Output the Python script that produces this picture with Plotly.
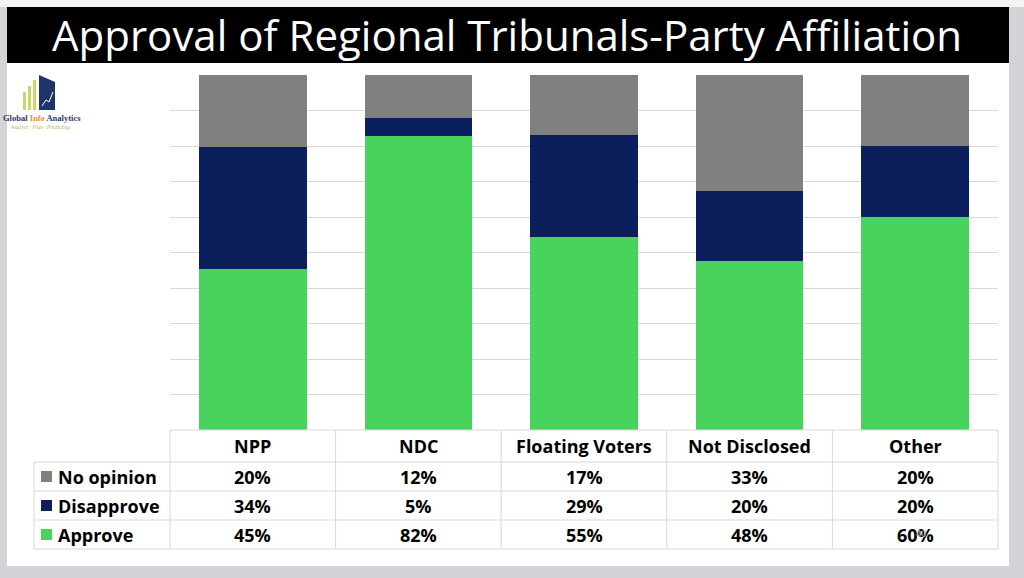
import plotly.graph_objects as go

# data
groups = ["NPP", "NDC", "Floating Voters", "Not Disclosed", "Other"]
approve = [45, 82, 55, 48, 60]
disapprove = [34, 5, 29, 20, 20]
no_opinion = [20, 12, 17, 33, 20]

series_names = ["No opinion", "Disapprove", "Approve"]
series_colors = {"No opinion": "#808080", "Disapprove": "#0a1f5c", "Approve": "#48d35c"}
series_values = {"No opinion": no_opinion, "Disapprove": disapprove, "Approve": approve}

W, H = 1024, 578


def px(x):
    return x / W


def py(y):
    return 1 - y / H


# plot area in pixels
X0, X1 = 170, 998
Y_TOP, Y_BOT = 75, 430
GRID = "#d9d9d9"
FONT = "Open Sans"

fig = go.Figure()

# 100% stacked bars, bottom to top
for name in ["Approve", "Disapprove", "No opinion"]:
    fig.add_trace(go.Bar(
        x=groups,
        y=series_values[name],
        name=name,
        marker=dict(color=series_colors[name], line=dict(width=0)),
        customdata=series_values[name],
        hovertemplate="%{x}<br>" + name + ": %{customdata}%<extra></extra>",
        showlegend=False,
    ))

shapes = []
annotations = []

# slide background + title bar
shapes.append(dict(type="rect", xref="paper", yref="paper", x0=0, x1=1, y0=py(7), y1=1,
                   fillcolor="#f4f4f4", line=dict(width=0), layer="below"))
shapes.append(dict(type="rect", xref="paper", yref="paper", x0=px(7), x1=px(1009), y0=py(566), y1=py(7),
                   fillcolor="white", line=dict(width=0), layer="below"))
shapes.append(dict(type="rect", xref="paper", yref="paper", x0=px(7), x1=px(1009), y0=py(63), y1=py(7),
                   fillcolor="black", line=dict(width=0), layer="below"))
annotations.append(dict(text="Approval of Regional Tribunals-Party Affiliation", xref="paper", yref="paper",
                        x=px(507), y=py(34), showarrow=False, xanchor="center", yanchor="middle",
                        font=dict(family="Open Sans", size=42, color="white")))

# logo (rough)
for bx, top in [(23, 92), (28, 86), (33, 80)]:
    shapes.append(dict(type="rect", xref="paper", yref="paper", x0=px(bx), x1=px(bx + 3), y0=py(110), y1=py(top),
                       fillcolor="#c9d66b", line=dict(width=0)))
shapes.append(dict(type="path", xref="paper", yref="paper",
                   path=f"M {px(39)} {py(110)} L {px(39)} {py(75)} L {px(55)} {py(82)} L {px(55)} {py(110)} Z",
                   fillcolor="#1f3468", line=dict(width=0)))
shapes.append(dict(type="path", xref="paper", yref="paper",
                   path=f"M {px(42)} {py(106)} L {px(46)} {py(100)} L {px(49)} {py(102)} L {px(53)} {py(92)}",
                   line=dict(color="white", width=1)))
annotations.append(dict(text="<b>Global <span style='color:#e3913a'>Info</span> Analytics</b>",
                        xref="paper", yref="paper", x=px(42), y=py(118), showarrow=False,
                        xanchor="center", yanchor="middle",
                        font=dict(family="Liberation Serif", size=8.5, color="#2b3a67")))
annotations.append(dict(text="<i>Analyse · Plan · Predicting</i>", xref="paper", yref="paper",
                        x=px(40), y=py(127), showarrow=False, xanchor="center", yanchor="middle",
                        font=dict(family="Liberation Serif", size=5.5, color="#c8b050")))

# data table under the chart
col_w = (X1 - X0) / len(groups)
HDR_BOT = 462
row_edges = [462, 491, 520, 549]
LAB_X0 = 34

# horizontal lines
shapes.append(dict(type="line", xref="paper", yref="paper", x0=px(X0), x1=px(X1), y0=py(Y_BOT), y1=py(Y_BOT),
                   line=dict(color=GRID, width=1)))
for ry in row_edges:
    shapes.append(dict(type="line", xref="paper", yref="paper", x0=px(LAB_X0), x1=px(X1), y0=py(ry), y1=py(ry),
                       line=dict(color=GRID, width=1)))
# vertical lines
shapes.append(dict(type="line", xref="paper", yref="paper", x0=px(LAB_X0), x1=px(LAB_X0),
                   y0=py(HDR_BOT), y1=py(row_edges[-1]), line=dict(color=GRID, width=1)))
for i in range(len(groups) + 1):
    vx = X0 + i * col_w
    shapes.append(dict(type="line", xref="paper", yref="paper", x0=px(vx), x1=px(vx),
                       y0=py(Y_BOT), y1=py(row_edges[-1]), line=dict(color=GRID, width=1)))

tfont = dict(family=FONT, size=18, color="black")
for g in groups:
    annotations.append(dict(text=f"<b>{g}</b>", xref="x", yref="paper", x=g, y=py((Y_BOT + HDR_BOT) / 2),
                            showarrow=False, xanchor="center", yanchor="middle", font=tfont))

for r, name in enumerate(series_names):
    cy = (row_edges[r] + row_edges[r + 1]) / 2
    shapes.append(dict(type="rect", xref="paper", yref="paper", x0=px(41), x1=px(52),
                       y0=py(cy + 5.5), y1=py(cy - 5.5), fillcolor=series_colors[name], line=dict(width=0)))
    annotations.append(dict(text=f"<b>{name}</b>", xref="paper", yref="paper", x=px(56), y=py(cy),
                            showarrow=False, xanchor="left", yanchor="middle", font=tfont))
    for g, v in zip(groups, series_values[name]):
        annotations.append(dict(text=f"<b>{v}%</b>", xref="x", yref="paper", x=g, y=py(cy),
                                showarrow=False, xanchor="center", yanchor="middle", font=tfont))

# faint slide number
annotations.append(dict(text="40", xref="paper", yref="paper", x=px(928), y=py(542), showarrow=False,
                        font=dict(family=FONT, size=9, color="#a0a0a0")))

fig.update_layout(
    width=W, height=H,
    margin=dict(l=0, r=0, t=0, b=0),
    paper_bgcolor="#d4d4d8",
    plot_bgcolor="white",
    barmode="stack",
    barnorm="percent",
    bargap=0.35,
    shapes=shapes,
    annotations=annotations,
    xaxis=dict(domain=[px(X0), px(X1)], showticklabels=False, showgrid=False, zeroline=False,
               showline=False, ticks=""),
    yaxis=dict(domain=[py(Y_BOT), py(Y_TOP)], range=[0, 100], dtick=10, showticklabels=False,
               showgrid=True, gridcolor=GRID, gridwidth=1, zeroline=False, showline=False, ticks=""),
)

# drop the default page margin so the figure fills the window
fig.write_html("out.html", config={"displayModeBar": False},
               post_script="document.body.style.margin='0';")
